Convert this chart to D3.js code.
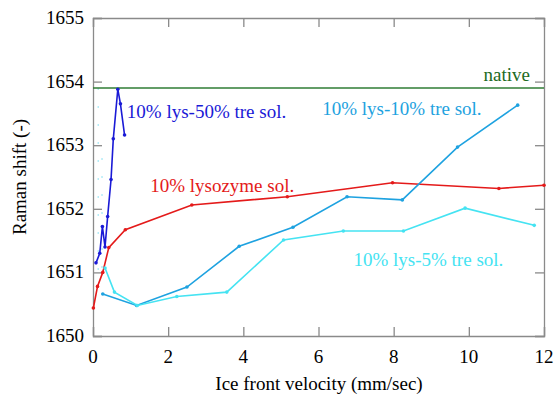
<!DOCTYPE html>
<html>
<head>
<meta charset="utf-8">
<script src="https://cdn.jsdelivr.net/npm/d3@7"></script>
<style>
  body { margin: 0; background: #fff; }
</style>
</head>
<body>
<svg id="graph" width="560" height="399"></svg>
<script>
// data: [velocity mm/sec, Raman shift]
var lys50tre = [[0.08,1651.15],[0.18,1651.3],[0.25,1651.72],[0.32,1651.4],[0.39,1651.88],
                [0.48,1652.46],[0.54,1653.1],[0.66,1653.88],[0.73,1653.65],[0.84,1653.16]];
var lysozyme = [[0.01,1650.44],[0.12,1650.78],[0.26,1651.0],[0.42,1651.39],[0.86,1651.67],
                [2.63,1652.06],[5.17,1652.19],[7.97,1652.41],[10.8,1652.32],[12,1652.37]];
var lys10tre = [[0.26,1650.66],[1.16,1650.48],[2.5,1650.77],[3.89,1651.41],[5.32,1651.71],
                [6.76,1652.19],[8.23,1652.14],[9.7,1652.97],[11.3,1653.63]];
var lys5tre  = [[0.32,1651.07],[0.57,1650.69],[1.18,1650.48],[2.23,1650.62],[3.56,1650.69],
                [5.07,1651.51],[6.66,1651.65],[8.26,1651.65],[9.9,1652.01],[11.74,1651.74]];
var faintGuides = [[[0.14,1653.9],[0.14,1651.0]], [[0.24,1652.8],[0.24,1651.0]]];
var nativeShift = 1653.9;

var xTicks = [0, 2, 4, 6, 8, 10, 12];
var yTicks = [1650, 1651, 1652, 1653, 1654, 1655];

var series = [
  { data: lys50tre, color: '#1a1ad6', label: '10% lys-50% tre sol.', lx: 0.9,  ly: 1653.43 },
  { data: lysozyme, color: '#e41a1a', label: '10% lysozyme sol.',    lx: 1.52, ly: 1652.26 },
  { data: lys10tre, color: '#1ea2e0', label: '10% lys-10% tre sol.', lx: 6.1,  ly: 1653.47 },
  { data: lys5tre,  color: '#45e3f2', label: '10% lys-5% tre sol.',  lx: 6.93, ly: 1651.1 }
];

var serif = '"Liberation Serif", "DejaVu Serif", serif';

/*******************************************************************************************/
// Scales and frame

var padL = 93, padR = 544, padT = 18, padB = 336;
var xScale = d3.scaleLinear().domain([0, 12]).range([padL, padR]);
var yScale = d3.scaleLinear().domain([1650, 1655]).range([padB, padT]);
var lineGen = d3.line().x(function(d){ return xScale(d[0]) }).y(function(d){ return yScale(d[1]) });

var svg = d3.select('#graph');
var axisColor = '#8a8a8a';

// ticks pointing inward on all four sides
svg.append('g').attr('transform', 'translate(0,' + padB + ')')
  .call(d3.axisTop(xScale).tickValues(xTicks).tickSize(9).tickFormat(''));
svg.append('g').attr('transform', 'translate(0,' + padT + ')')
  .call(d3.axisBottom(xScale).tickValues(xTicks).tickSize(9).tickFormat(''));
svg.append('g').attr('transform', 'translate(' + padL + ',0)')
  .call(d3.axisRight(yScale).tickValues(yTicks).tickSize(9).tickFormat(''));
svg.append('g').attr('transform', 'translate(' + padR + ',0)')
  .call(d3.axisLeft(yScale).tickValues(yTicks).tickSize(9).tickFormat(''));
svg.selectAll('.domain, .tick line').attr('stroke', axisColor).attr('stroke-width', 1.3);

// tick labels
svg.selectAll('.xlab').data(xTicks).enter().append('text')
  .attr('x', function(d){ return xScale(d) }).attr('y', 363)
  .attr('text-anchor', 'middle').style('font-family', serif).style('font-size', '19px')
  .text(function(d){ return d });
svg.selectAll('.ylab').data(yTicks).enter().append('text')
  .attr('x', 84).attr('y', function(d){ return yScale(d) + 6 })
  .attr('text-anchor', 'end').style('font-family', serif).style('font-size', '19px')
  .text(function(d){ return d });

// axis titles
svg.append('text').attr('x', 319).attr('y', 390).attr('text-anchor', 'middle')
  .style('font-family', serif).style('font-size', '19px').text('Ice front velocity (mm/sec)');
svg.append('text').attr('transform', 'translate(26,' + 177 + ') rotate(-90)')
  .attr('text-anchor', 'middle').style('font-family', serif).style('font-size', '19px')
  .text('Raman shift (-)');

/*******************************************************************************************/
// Lines

var plot = svg.append('g');

faintGuides.forEach(function(g){
  plot.append('path').attr('d', lineGen(g))
    .attr('fill', 'none').attr('stroke', '#b5ecf7').attr('stroke-width', 1.5)
    .attr('stroke-dasharray', '2,16');
});

plot.append('line')
  .attr('x1', xScale(0)).attr('x2', xScale(12))
  .attr('y1', yScale(nativeShift)).attr('y2', yScale(nativeShift))
  .attr('stroke', '#2f7d35').attr('stroke-width', 1.5);
plot.append('text').attr('x', 530).attr('y', yScale(nativeShift) - 7)
  .attr('text-anchor', 'end').attr('fill', '#216a22')
  .style('font-family', serif).style('font-size', '19px').text('native');

series.forEach(function(s){
  plot.append('path').attr('d', lineGen(s.data))
    .attr('fill', 'none').attr('stroke', s.color).attr('stroke-width', 1.6);
  plot.selectAll(null).data(s.data).enter().append('circle')
    .attr('cx', function(d){ return xScale(d[0]) }).attr('cy', function(d){ return yScale(d[1]) })
    .attr('r', 1.8).attr('fill', s.color);
  plot.append('text').attr('x', xScale(s.lx)).attr('y', yScale(s.ly))
    .attr('fill', s.color).style('font-family', serif).style('font-size', '19px').text(s.label);
});
</script>
</body>
</html>
